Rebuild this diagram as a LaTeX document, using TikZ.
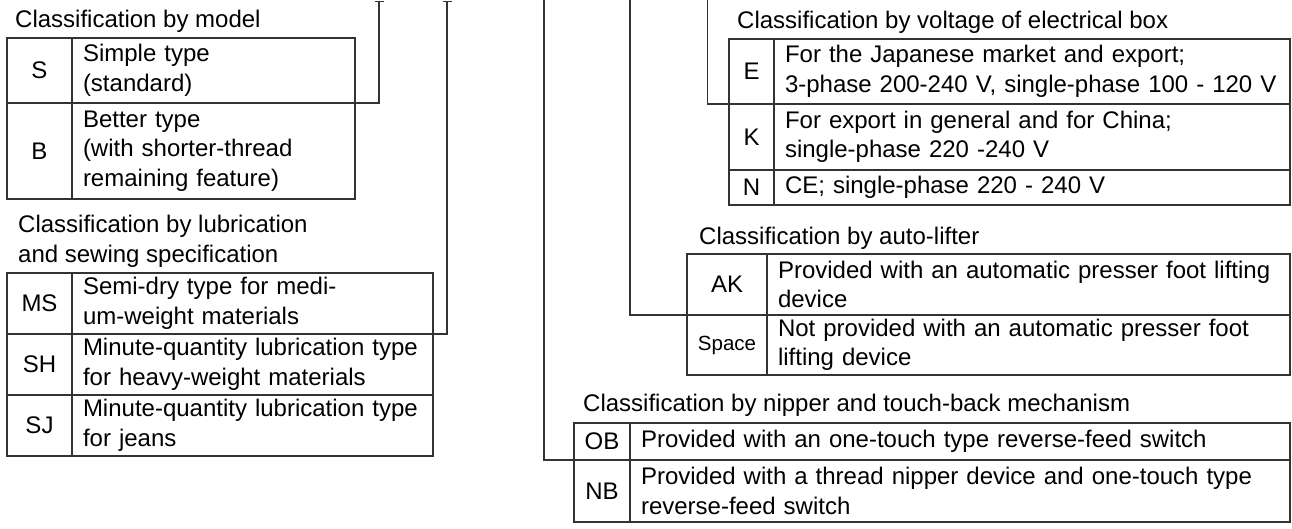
\documentclass[tikz,border=0pt]{standalone}
\usepackage{fontspec}
\setmainfont{Liberation Sans}
\usetikzlibrary{arrows.meta}
\definecolor{linegray}{gray}{0.2}
\tikzset{code cell/.style={draw=linegray,line width=1.2pt,outer sep=0,inner sep=0,anchor=north west},
  desc cell/.style={draw=linegray,line width=1.2pt,outer sep=0,inner xsep=11pt,inner ysep=0,anchor=north west,align=left},
  class title/.style={anchor=west,inner sep=0,align=left},
  bracket/.style={draw=linegray,line width=1.2pt}}
\def\spc{\fontsize{20.5}{24}\selectfont}

\begin{document}
\begin{tikzpicture}[x=1pt,y=-1pt,font=\fontsize{24}{29.5}\selectfont]
      \useasboundingbox (0,0) rectangle (1292,529);

      %model
      \node[class title] (tmodel) at (15,21) {Classification by model};
      \node[code cell, minimum width=65pt, minimum height=65pt] (S) at (7,38) {S};
      \node[desc cell, text width=261pt, minimum height=65pt] (Sd) at (72,38) {Simple type\\(standard)};
      \node[code cell, minimum width=65pt, minimum height=96pt] (B) at (7,103) {B};
      \node[desc cell, text width=261pt, minimum height=96pt] (Bd) at (72,103) {Better type\\(with shorter-thread\\remaining feature)};

      %lubrication
      \node[class title] (tlub) at (18,241.5) {Classification by lubrication\\and sewing specification};
      \node[code cell, minimum width=65pt, minimum height=61pt] (MS) at (7,273) {MS};
      \node[desc cell, text width=339pt, minimum height=61pt] (MSd) at (72,273) {Semi-dry type for medi-\\um-weight materials};
      \node[code cell, minimum width=65pt, minimum height=61pt] (SH) at (7,334) {SH};
      \node[desc cell, text width=339pt, minimum height=61pt] (SHd) at (72,334) {Minute-quantity lubrication type\\for heavy-weight materials};
      \node[code cell, minimum width=65pt, minimum height=61pt] (SJ) at (7,395) {SJ};
      \node[desc cell, text width=339pt, minimum height=61pt] (SJd) at (72,395) {Minute-quantity lubrication type\\for jeans};

      %voltage
      \node[class title] (tvolt) at (737,22) {Classification by voltage of electrical box};
      \node[code cell, minimum width=45pt, minimum height=65pt] (E) at (729,39) {E};
      \node[desc cell, text width=494pt, minimum height=65pt] (Ed) at (774,39) {For the Japanese market and export;\\3-phase 200-240 V, single-phase 100 - 120 V};
      \node[code cell, minimum width=45pt, minimum height=66pt] (K) at (729,104) {K};
      \node[desc cell, text width=494pt, minimum height=66pt] (Kd) at (774,104) {For export in general and for China;\\single-phase 220 -240 V};
      \node[code cell, minimum width=45pt, minimum height=35pt] (N) at (729,170) {N};
      \node[desc cell, text width=494pt, minimum height=35pt] (Nd) at (774,170) {CE; single-phase 220 - 240 V};

      %auto-lifter
      \node[class title] (tlift) at (699,238) {Classification by auto-lifter};
      \node[code cell, minimum width=80pt, minimum height=61pt] (AK) at (687,254) {AK};
      \node[desc cell, text width=501pt, minimum height=61pt] (AKd) at (767,254) {Provided with an automatic presser foot lifting\\device};
      \node[code cell, minimum width=80pt, minimum height=60pt] (Sp) at (687,315) {\spc Space};
      \node[desc cell, text width=501pt, minimum height=60pt] (Spd) at (767,315) {Not provided with an automatic presser foot\\lifting device};

      %nipper
      \node[class title] (tnip) at (583,405) {Classification by nipper and touch-back mechanism};
      \node[code cell, minimum width=56pt, minimum height=37pt] (OB) at (574,423) {OB};
      \node[desc cell, text width=638pt, minimum height=37pt] (OBd) at (630,423) {Provided with an one-touch type reverse-feed switch};
      \node[code cell, minimum width=56pt, minimum height=62pt] (NB) at (574,460) {NB};
      \node[desc cell, text width=638pt, minimum height=62pt] (NBd) at (630,460) {Provided with a thread nipper device and one-touch type\\reverse-feed switch};

      %brackets
      \coordinate (bm) at (379,1);
      \coordinate (bl) at (447,1);
      \coordinate (bn) at (544,0);
      \coordinate (ba) at (630,0);
      \coordinate (bv) at (707.5,0);
      \draw[bracket, {Bar[width=9pt]}-] (bm) |- (Sd.south east);
      \draw[bracket, {Bar[width=9pt]}-] (bl) |- (MSd.south east);
      \draw[bracket] (bn) |- (OB.south west);
      \draw[bracket] (ba) |- (AK.south west);
      \draw[bracket] (bv) |- (E.south west);

    \end{tikzpicture}
\end{document}
